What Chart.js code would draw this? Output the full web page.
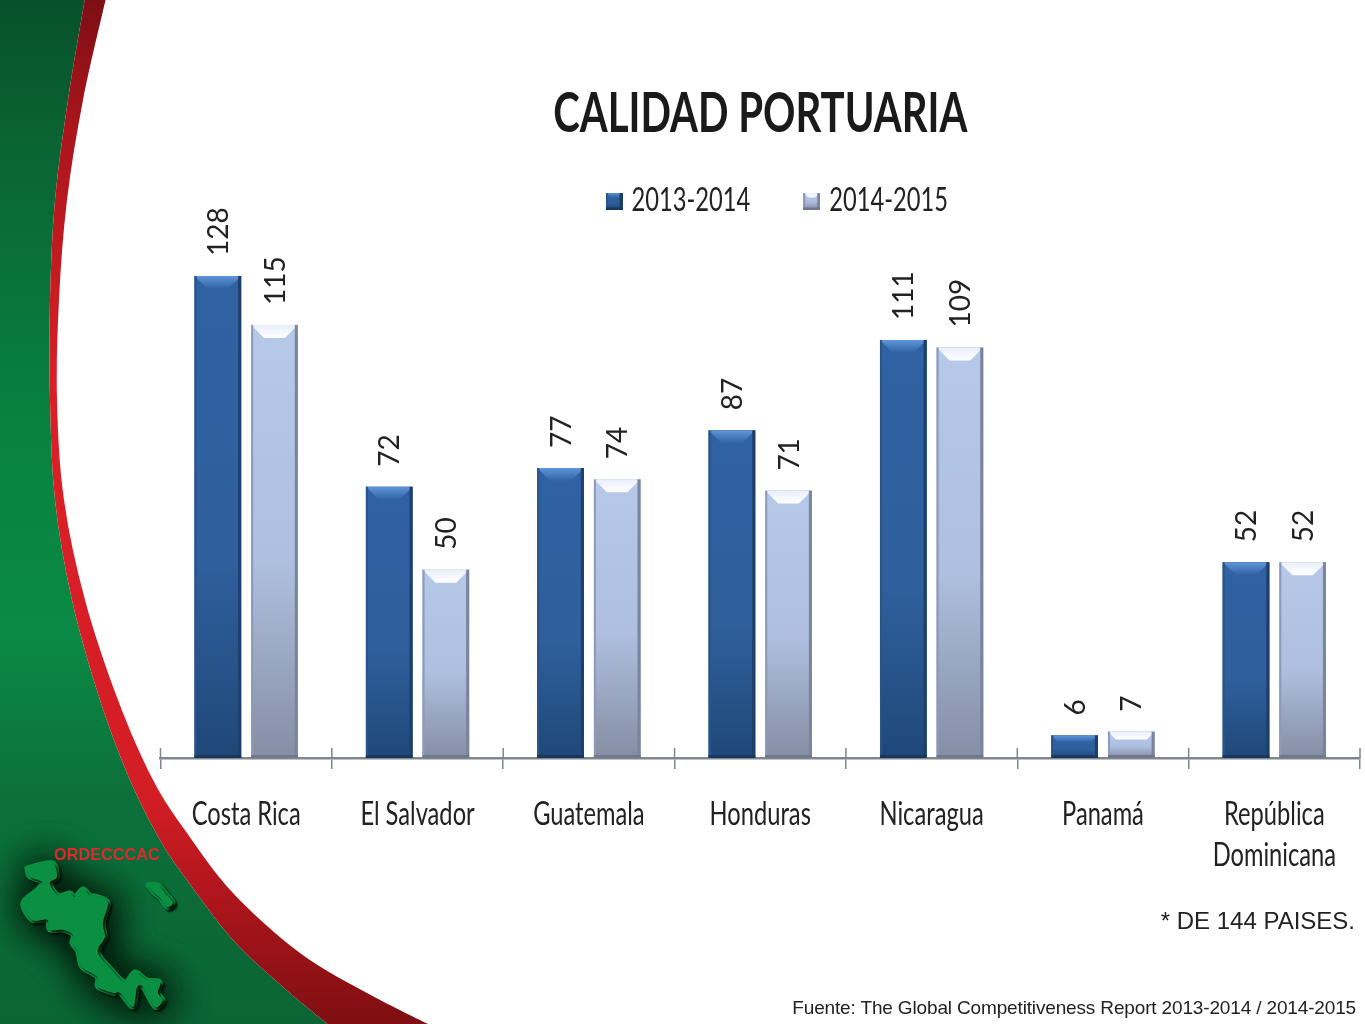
<!DOCTYPE html>
<html>
<head>
<meta charset="utf-8">
<title>Calidad portuaria</title>
<script src="https://cdn.jsdelivr.net/npm/chart.js@4"></script>
<style>
  html, body { margin: 0; padding: 0; background: #fff; overflow: hidden; }
  #wrap { position: relative; width: 1365px; height: 1024px; }
  canvas { position: absolute; left: 0; top: 0; }
  .note { position: absolute; white-space: nowrap; font-family: "Liberation Sans", Arial, sans-serif; color: #222; }
  #brand { left: 54px; top: 845px; font-size: 16.3px; font-weight: bold; color: #e0282e; }
  #base { right: 10px; top: 907px; font-size: 24px; }
  #source { right: 9px; top: 997px; font-size: 19px; letter-spacing: -0.15px; }
</style>
</head>
<body>
<div id="wrap">
  <canvas id="chart" width="1365" height="1024"></canvas>
  <div class="note" id="brand">ORDECCCAC</div>
  <div class="note" id="base">* DE 144 PAISES.</div>
  <div class="note" id="source">Fuente: The Global Competitiveness Report 2013-2014 / 2014-2015</div>
</div>
<script>
const categories = ['Costa Rica', 'El Salvador', 'Guatemala', 'Honduras', 'Nicaragua', 'Panamá', ['República', 'Dominicana']];
const seriesNames = ['2013-2014', '2014-2015'];
const values2013 = [128, 72, 77, 87, 111, 6, 52];
const values2014 = [115, 50, 74, 71, 109, 7, 52];

// slide background pieces
const outerEdge = [[106,-2],[83,100],[67,200],[59,300],[57,400],[64,500],[85,600],[118,700],[153,780],[187,833],[233,893],[300,953],[367,993],[432,1026]];
const innerEdge = [[85,-2],[68,100],[55,200],[50,300],[50,400],[55,500],[72,600],[100,700],[130,780],[160,840],[187,880],[233,940],[283,987],[330,1026]];
const mapMain = [[27,868],[52,863],[57,877],[50,883],[58,895],[70,893],[75,897],[83,889],[90,895],[98,897],[108,903],[103,923],[105,937],[98,952],[112,970],[125,982],[135,972],[147,980],[160,982],[158,993],[163,1000],[155,1007],[143,987],[137,988],[133,1007],[120,993],[113,993],[98,987],[97,977],[82,967],[78,952],[72,943],[73,935],[63,930],[50,930],[47,920],[32,920],[23,903],[37,890],[42,882],[30,877],[27,868]];
const mapIsland = [[148,885],[158,885],[167,895],[173,903],[167,907],[160,898],[153,892],[148,885]];

// no condensed face is installed, so these font sizes get squeezed sideways
const textSqueeze = { '55': 0.73, '32': 0.74 };

function squeezeText(ctx) {
  const fill = ctx.fillText.bind(ctx);
  const measure = ctx.measureText.bind(ctx);
  const factor = () => {
    const m = ctx.font.match(/(\d+(?:\.\d+)?)px/);
    return textSqueeze[m ? m[1] : ''] || 1;
  };
  ctx.fillText = (t, x, y, maxWidth) => {
    const k = factor();
    ctx.save();
    ctx.translate(x, y);
    ctx.scale(k, 1);
    if (maxWidth === undefined) fill(t, 0, 0); else fill(t, 0, 0, maxWidth / k);
    ctx.restore();
  };
  ctx.measureText = t => {
    const k = factor();
    const r = measure(t);
    return k === 1 ? r : { width: r.width * k };
  };
}

function tracePoints(ctx, pts, start) {
  if (start) ctx.moveTo(pts[0][0], pts[0][1]); else ctx.lineTo(pts[0][0], pts[0][1]);
  for (let i = 0; i < pts.length - 1; i++) {
    const p0 = pts[Math.max(i - 1, 0)], p1 = pts[i], p2 = pts[i + 1], p3 = pts[Math.min(i + 2, pts.length - 1)];
    ctx.bezierCurveTo(p1[0] + (p2[0] - p0[0]) / 6, p1[1] + (p2[1] - p0[1]) / 6, p2[0] - (p3[0] - p1[0]) / 6, p2[1] - (p3[1] - p1[1]) / 6, p2[0], p2[1]);
  }
}

function stops(grad, list) {
  list.forEach(s => grad.addColorStop(s[0], s[1]));
  return grad;
}

function blob(ctx, pts) {
  ctx.beginPath();
  tracePoints(ctx, pts, true);
  ctx.closePath();
  ctx.lineJoin = 'round';
  ctx.lineWidth = 5;
  ctx.stroke();
  ctx.fill();
}

const slideBackground = {
  id: 'slideBackground',
  beforeDraw(chart) {
    const ctx = chart.ctx;
    ctx.save();
    ctx.fillStyle = stops(ctx.createLinearGradient(0, 0, 0, 1024), [[0, '#07512a'], [0.14, '#0a6433'], [0.42, '#07833f'], [0.62, '#0a8a44'], [0.78, '#0c7039'], [1, '#0b6434']]);
    ctx.beginPath();
    ctx.moveTo(0, -2);
    tracePoints(ctx, innerEdge, false);
    ctx.lineTo(0, 1026);
    ctx.closePath();
    ctx.fill();

    ctx.fillStyle = stops(ctx.createLinearGradient(0, 0, 0, 1024), [[0, '#7c0f14'], [0.12, '#a8151b'], [0.38, '#dc1f27'], [0.78, '#d31d25'], [0.9, '#a41419'], [1, '#7f0f12']]);
    ctx.beginPath();
    tracePoints(ctx, outerEdge, true);
    tracePoints(ctx, innerEdge.slice().reverse(), false);
    ctx.closePath();
    ctx.fill();

    // map of the region with its soft shadow
    ctx.fillStyle = '#0b8f42';
    ctx.strokeStyle = '#0b8f42';
    ctx.shadowColor = 'rgba(0,16,6,0.9)';
    ctx.shadowBlur = 38;
    ctx.shadowOffsetX = 3;
    ctx.shadowOffsetY = 3;
    blob(ctx, mapMain);
    blob(ctx, mapMain);
    ctx.shadowColor = 'rgba(0,16,6,1)';
    ctx.shadowBlur = 2;
    ctx.shadowOffsetX = 2;
    ctx.shadowOffsetY = 2;
    blob(ctx, mapMain);
    blob(ctx, mapIsland);
    ctx.restore();
  }
};

const palettes = [
  { body: [[0, '#2f62a3'], [0.6, '#2f5f9c'], [1, '#1f4878']], top: ['#5f96d8', '#2f62a3'], left: '#2a5488', right: '#1d3f6b', foot: '#17375f' },
  { body: [[0, '#b6c9e9'], [0.55, '#aebfdf'], [1, '#858ea3']], top: ['#e8eefa', '#ffffff'], left: '#8d9ab8', right: '#79849d', foot: '#6f788c' }
];

function paintBevel(ctx, x0, x1, y0, y1, pal) {
  const h = y1 - y0;
  const b = Math.min(13, h * 0.3);
  const foot = Math.min(3, h * 0.12);
  ctx.save();
  ctx.fillStyle = stops(ctx.createLinearGradient(0, y0, 0, y1), pal.body);
  ctx.fillRect(x0, y0, x1 - x0, h);
  ctx.fillStyle = stops(ctx.createLinearGradient(0, y0, 0, y0 + b), [[0, pal.top[0]], [1, pal.top[1]]]);
  ctx.beginPath();
  ctx.moveTo(x0, y0);
  ctx.lineTo(x1, y0);
  ctx.lineTo(x1 - b, y0 + b);
  ctx.lineTo(x0 + b, y0 + b);
  ctx.closePath();
  ctx.fill();
  ctx.fillStyle = pal.left;
  ctx.fillRect(x0, y0, 2, h);
  ctx.fillStyle = pal.right;
  ctx.fillRect(x1 - 3, y0, 3, h);
  ctx.fillStyle = pal.foot;
  ctx.fillRect(x0, y1 - foot, x1 - x0, foot);
  ctx.restore();
}

const bevelBars = {
  id: 'bevelBars',
  afterDatasetsDraw(chart) {
    const ctx = chart.ctx;
    chart.data.datasets.forEach((ds, i) => {
      chart.getDatasetMeta(i).data.forEach(bar => {
        const half = bar.width / 2;
        paintBevel(ctx, bar.x - half, bar.x + half, bar.y, bar.base, palettes[i]);
      });
    });
  }
};

const valueLabels = {
  id: 'valueLabels',
  afterDatasetsDraw(chart) {
    const ctx = chart.ctx;
    ctx.save();
    ctx.fillStyle = '#222';
    ctx.font = '28px Lato';
    ctx.textAlign = 'left';
    ctx.textBaseline = 'middle';
    chart.data.datasets.forEach((ds, i) => {
      chart.getDatasetMeta(i).data.forEach((bar, j) => {
        ctx.save();
        ctx.translate(bar.x + 1, bar.y - 20);
        ctx.rotate(-Math.PI / 2);
        ctx.fillText(ds.data[j], 0, 0);
        ctx.restore();
      });
    });
    ctx.restore();
  }
};

// tick marks cross the axis line, chart.js only draws the lower half
const axisCross = {
  id: 'axisCross',
  afterDraw(chart) {
    const ctx = chart.ctx;
    const { left, right, bottom } = chart.chartArea;
    const step = (right - left) / categories.length;
    ctx.save();
    ctx.strokeStyle = '#7f868d';
    ctx.lineWidth = 1.5;
    ctx.beginPath();
    for (let i = 0; i <= categories.length; i++) {
      ctx.moveTo(left + step * i, bottom - 10);
      ctx.lineTo(left + step * i, bottom);
    }
    ctx.stroke();
    ctx.restore();
  }
};

// legend sits a little right of the plot centre in the reference
const legendShift = {
  id: 'legendShift',
  afterLayout(chart) {
    chart.legend.left += 20;
    chart.legend.right += 20;
  }
};

function swatch(pal) {
  const c = document.createElement('canvas');
  c.width = 17;
  c.height = 17;
  paintBevel(c.getContext('2d'), 0, 17, 0, 17, pal);
  return c;
}
const swatches = palettes.map(swatch);

const canvas = document.getElementById('chart');
squeezeText(canvas.getContext('2d'));

new Chart(canvas, {
  type: 'bar',
  data: {
    labels: categories,
    datasets: [
      { label: seriesNames[0], data: values2013, backgroundColor: '#2f62a3', categoryPercentage: 0.661, barPercentage: 0.823 },
      { label: seriesNames[1], data: values2014, backgroundColor: '#aebfdf', categoryPercentage: 0.661, barPercentage: 0.823 }
    ]
  },
  options: {
    responsive: false,
    animation: false,
    layout: { padding: { left: 160.5, right: 5, top: 0, bottom: 0 } },
    plugins: {
      title: {
        display: true,
        text: 'CALIDAD PORTUARIA',
        color: '#1a1a1a',
        font: { family: 'Lato', size: 55, weight: 'bold', lineHeight: 0.4 },
        padding: { top: 103, bottom: 0 }
      },
      legend: {
        display: true,
        position: 'top',
        labels: {
          color: '#222',
          font: { family: 'Lato', size: 32 },
          usePointStyle: true,
          pointStyleWidth: 3,
          padding: 60,
          generateLabels(chart) {
            return Chart.defaults.plugins.legend.labels.generateLabels(chart).map((it, i) => ({ ...it, pointStyle: swatches[i] }));
          }
        }
      },
      tooltip: { enabled: false }
    },
    scales: {
      y: { display: false, min: 0, max: 141 },
      x: {
        afterFit(scale) { scale.height = 266; },
        border: { display: true, color: '#7f868d', width: 2.5 },
        grid: { offset: true, drawOnChartArea: false, color: '#7f868d', lineWidth: 1.5, tickLength: 11 },
        ticks: {
          color: '#222',
          autoSkip: false,
          maxRotation: 0,
          padding: 25,
          font: { family: 'Lato', size: 32, lineHeight: 1.28 }
        }
      }
    }
  },
  plugins: [slideBackground, bevelBars, valueLabels, axisCross, legendShift]
});
</script>
</body>
</html>
